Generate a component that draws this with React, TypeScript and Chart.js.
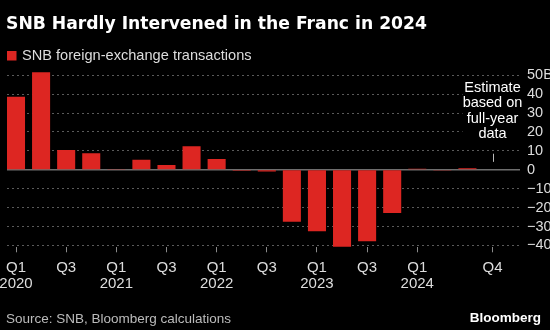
import React, { useEffect, useRef } from 'react';
import { Chart, registerables } from 'chart.js';

Chart.register(...registerables);

// ---- Data ----
const titleText = 'SNB Hardly Intervened in the Franc in 2024';
const legendLabel = 'SNB foreign-exchange transactions';
const sourceText = 'Source: SNB, Bloomberg calculations';
const brandText = 'Bloomberg';
const annotationLines = ['Estimate', 'based on', 'full-year', 'data'];

const quarters = [
  'Q1 2020', 'Q2 2020', 'Q3 2020', 'Q4 2020',
  'Q1 2021', 'Q2 2021', 'Q3 2021', 'Q4 2021',
  'Q1 2022', 'Q2 2022', 'Q3 2022', 'Q4 2022',
  'Q1 2023', 'Q2 2023', 'Q3 2023', 'Q4 2023',
  'Q1 2024', 'Q2 2024', 'Q3 2024', 'Q4 2024',
];
// CHF billions
const transactions = [
  38.6, 51.6, 10.5, 8.8,
  0.4, 5.3, 2.5, 12.4,
  5.7, -0.5, -0.9, -27.5,
  -32.5, -40.7, -37.8, -22.8,
  0.5, -0.4, 0.8, -0.3,
];

const xTickIndex = [0, 2, 4, 6, 8, 10, 12, 14, 16, 19];
const xTickQuarter = ['Q1', 'Q3', 'Q1', 'Q3', 'Q1', 'Q3', 'Q1', 'Q3', 'Q1', 'Q4'];
const xTickYear = ['2020', '', '2021', '', '2022', '', '2023', '', '2024', ''];

const yTicks = [-40, -30, -20, -10, 0, 10, 20, 30, 40, 50];
const yTickLabels = ['\u221240', '\u221230', '\u221220', '\u221210', '0', '10', '20', '30', '40', '50B'];

const annotatedIndex = 19;

const FONT = '"Liberation Sans", Arial, sans-serif';
const TITLE_FONT = '"DejaVu Sans", Verdana, sans-serif';
const RED = '#dd2622';

export default function App() {
  const ref = useRef<HTMLCanvasElement>(null);

  useEffect(() => {
    document.body.style.margin = '0';
    document.body.style.background = '#000';
    const canvas = ref.current!;

    const zeroLine = {
      id: 'zeroLine',
      beforeDatasetsDraw(chart: any) {
        const { ctx, chartArea } = chart;
        const y = chart.scales.y.getPixelForValue(0);
        ctx.save();
        ctx.strokeStyle = '#6e6e6e';
        ctx.lineWidth = 1.5;
        ctx.beginPath();
        ctx.moveTo(chartArea.left, y);
        ctx.lineTo(chartArea.right, y);
        ctx.stroke();
        ctx.restore();
      },
    };

    const texts = {
      id: 'texts',
      afterDraw(chart: any) {
        const { ctx } = chart;
        const xs = chart.scales.x;
        const ys = chart.scales.y;
        ctx.save();
        // title
        ctx.fillStyle = '#ffffff';
        ctx.textBaseline = 'middle';
        ctx.textAlign = 'left';
        ctx.font = `bold 17.2px ${TITLE_FONT}`;
        ctx.fillText(titleText, 6, 25);
        // legend
        ctx.fillStyle = RED;
        ctx.fillRect(7, 51, 9.5, 9.5);
        ctx.fillStyle = '#dddddd';
        ctx.font = `14.6px ${FONT}`;
        ctx.fillText(legendLabel, 22, 56);
        // source
        ctx.fillStyle = '#bbbbbb';
        ctx.font = `13.5px ${FONT}`;
        ctx.fillText(sourceText, 6, 319);
        // brand
        ctx.fillStyle = '#ffffff';
        ctx.font = `bold 13.5px ${FONT}`;
        ctx.textAlign = 'right';
        ctx.fillText(brandText, 541, 318);
        // annotation
        const ax = xs.getPixelForValue(annotatedIndex);
        ctx.fillStyle = '#000000';
        ctx.fillRect(ax - 30, 80, 60, 62);
        ctx.fillStyle = '#ffffff';
        ctx.textAlign = 'center';
        ctx.font = `14.5px ${FONT}`;
        annotationLines.forEach((l, i) => ctx.fillText(l, ax, 88 + i * 15.4));
        ctx.strokeStyle = '#bbbbbb';
        ctx.lineWidth = 1;
        ctx.beginPath();
        ctx.moveTo(Math.round(ax) + 0.5, ys.getPixelForValue(8.5));
        ctx.lineTo(Math.round(ax) + 0.5, ys.getPixelForValue(4.2));
        ctx.stroke();
        ctx.restore();
      },
    };

    const chart = new Chart(canvas, {
      type: 'bar',
      data: {
        datasets: [
          {
            label: legendLabel,
            data: transactions.map((v, i) => ({ x: i, y: v })),
            backgroundColor: RED,
            borderWidth: 0,
            barPercentage: 0.72,
            categoryPercentage: 1,
          },
        ],
      },
      options: {
        responsive: false,
        maintainAspectRatio: false,
        animation: false,
        events: [],
        layout: { padding: { left: 7, right: 0, top: 69.6, bottom: 32.7 } },
        plugins: {
          legend: { display: false },
          title: { display: false },
          tooltip: { enabled: false },
        },
        scales: {
          x: {
            type: 'linear',
            min: -0.359,
            max: 20.096,
            offset: false,
            afterBuildTicks: (s: any) => {
              s.ticks = xTickIndex.map((v) => ({ value: v }));
            },
            afterFit: (s: any) => {
              s.height = 50;
              s.paddingLeft = 0;
              s.paddingRight = 0;
            },
            grid: {
              drawOnChartArea: false,
              drawTicks: true,
              tickLength: 5,
              color: '#8a8a8a',
              offset: false,
            },
            border: { display: false },
            ticks: {
              autoSkip: false,
              maxRotation: 0,
              minRotation: 0,
              padding: 8,
              color: '#dddddd',
              font: { family: FONT, size: 15, lineHeight: 1.04 },
              callback: (v: any) => {
                const k = xTickIndex.indexOf(v);
                if (k < 0) return '';
                return xTickYear[k] ? [xTickQuarter[k], xTickYear[k]] : xTickQuarter[k];
              },
            },
          },
          y: {
            position: 'right',
            min: -41,
            max: 53,
            afterBuildTicks: (s: any) => {
              s.ticks = yTicks.map((v) => ({ value: v }));
            },
            afterFit: (s: any) => {
              s.width = 30;
              s.paddingTop = 0;
              s.paddingBottom = 0;
            },
            grid: {
              drawTicks: false,
              lineWidth: 1,
              color: (c: any) => (c.tick && c.tick.value === 0 ? 'rgba(0,0,0,0)' : '#5a5a5a'),
            },
            border: { display: false, dash: [2, 3] },
            ticks: {
              autoSkip: false,
              crossAlign: 'near',
              padding: 7,
              color: '#dddddd',
              font: { family: FONT, size: 14.5 },
              callback: (v: any) => {
                const k = yTicks.indexOf(v);
                return k < 0 ? '' : yTickLabels[k];
              },
            },
          },
        },
      },
      plugins: [zeroLine, texts],
    } as any);

    return () => chart.destroy();
  }, []);

  return (
    <div style={{ position: 'absolute', left: 0, top: 0, width: 550, height: 330, background: '#000' }}>
      <canvas ref={ref} width={550} height={330} style={{ display: 'block', width: 550, height: 330 }} />
    </div>
  );
}
